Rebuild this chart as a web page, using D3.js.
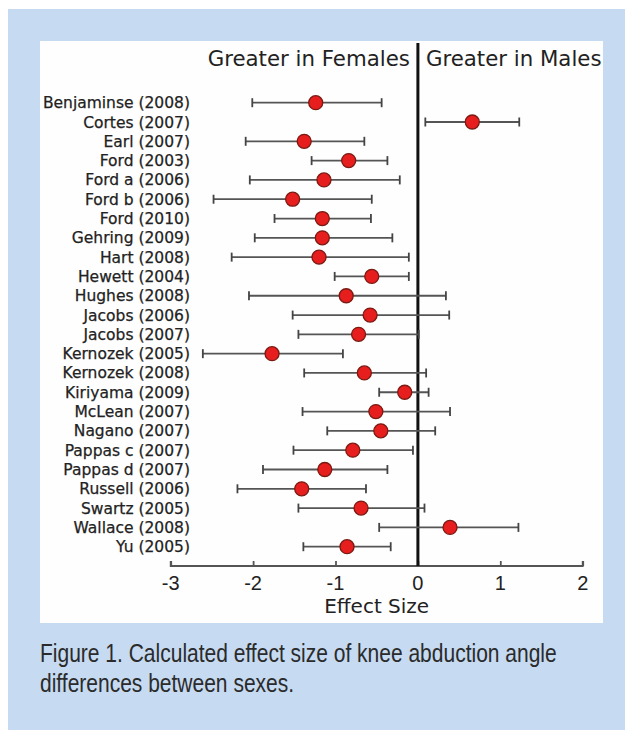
<!DOCTYPE html>
<html>
<head>
<meta charset="utf-8">
<script src="https://cdn.jsdelivr.net/npm/d3@7"></script>
<style>
  html, body { margin: 0; padding: 0; background: #fff; }
  svg { display: block; }
</style>
</head>
<body>
<svg id="chart" width="625" height="730"></svg>
<script>
const studies = ["Benjaminse (2008)","Cortes (2007)","Earl (2007)","Ford (2003)","Ford a (2006)","Ford b (2006)","Ford (2010)","Gehring (2009)","Hart (2008)","Hewett (2004)","Hughes (2008)","Jacobs (2006)","Jacobs (2007)","Kernozek (2005)","Kernozek (2008)","Kiriyama (2009)","McLean (2007)","Nagano (2007)","Pappas c (2007)","Pappas d (2007)","Russell (2006)","Swartz (2005)","Wallace (2008)","Yu (2005)"];
const effect = [-1.24, 0.66, -1.38, -0.84, -1.14, -1.52, -1.16, -1.16, -1.20, -0.56, -0.87, -0.58, -0.72, -1.77, -0.65, -0.16, -0.51, -0.45, -0.79, -1.13, -1.41, -0.69, 0.39, -0.86];
const lower  = [-2.01, 0.09, -2.09, -1.29, -2.04, -2.48, -1.74, -1.98, -2.26, -1.01, -2.05, -1.52, -1.45, -2.61, -1.38, -0.47, -1.40, -1.10, -1.51, -1.88, -2.19, -1.45, -0.47, -1.39];
const upper  = [-0.44, 1.23, -0.65, -0.37, -0.22, -0.56, -0.57, -0.31, -0.11, -0.11, 0.34, 0.38, 0.01, -0.91, 0.10, 0.13, 0.39, 0.21, -0.06, -0.37, -0.63, 0.08, 1.22, -0.33];
const xTicks = [-3, -2, -1, 0, 1, 2];
const headerLeft = "Greater in Females";
const headerRight = "Greater in Males";
const xTitle = "Effect Size";
const captionLines = ["Figure 1. Calculated effect size of knee abduction angle", "differences between sexes."];

const svg = d3.select("#chart");

// backgrounds
svg.append("rect").attr("x", 8).attr("y", 9).attr("width", 617).attr("height", 721).attr("fill", "#c6daf1");
svg.append("rect").attr("x", 40).attr("y", 41).attr("width", 563).attr("height", 582).attr("fill", "#fefefe");

const x = d3.scaleLinear().domain([-3, 2]).range([170.7, 582.7]);
const y = d3.scalePoint().domain(studies).range([102.7, 546.7]);
const axisY = 566;

const rows = studies.map((s, i) => ({ s, e: effect[i], lo: lower[i], hi: upper[i] }));

// axis
const axis = d3.axisTop(x).tickValues(xTicks).tickSize(5).tickFormat("");
const gAxis = svg.append("g").attr("transform", `translate(0,${axisY})`).call(axis);
gAxis.select(".domain").attr("stroke", "#555").attr("stroke-width", 1.8).attr("d", `M${x(-3)},-5V0H${x(2)}V-5`);
gAxis.selectAll(".tick line").attr("stroke", "#555").attr("stroke-width", 1.8);

svg.append("g").selectAll("text").data(xTicks).join("text")
  .attr("x", d => x(d)).attr("y", 590)
  .attr("text-anchor", "middle")
  .attr("font-family", "Liberation Sans, Arial, sans-serif")
  .attr("font-size", 20).attr("fill", "#222")
  .text(d => d);

svg.append("text").attr("x", x(-0.5)).attr("y", 613)
  .attr("text-anchor", "middle")
  .attr("font-family", "DejaVu Sans, Verdana, sans-serif")
  .attr("font-size", 20).attr("fill", "#222").text(xTitle);

// zero line
svg.append("line").attr("x1", x(0)).attr("x2", x(0)).attr("y1", 43).attr("y2", axisY)
  .attr("stroke", "#111").attr("stroke-width", 3);

// headers
svg.append("text").attr("x", x(0) - 8).attr("y", 66).attr("text-anchor", "end")
  .attr("font-family", "DejaVu Sans, Verdana, sans-serif").attr("font-size", 21.3).attr("fill", "#222").text(headerLeft);
svg.append("text").attr("x", x(0) + 8).attr("y", 66).attr("text-anchor", "start")
  .attr("font-family", "DejaVu Sans, Verdana, sans-serif").attr("font-size", 21.3).attr("fill", "#222").text(headerRight);

// labels
svg.append("g").selectAll("text").data(rows).join("text")
  .attr("x", 190).attr("y", d => y(d.s) + 5.5)
  .attr("text-anchor", "end")
  .attr("font-family", "DejaVu Sans, Verdana, sans-serif")
  .attr("font-size", 15.5).attr("fill", "#222")
  .attr("stroke", "#222").attr("stroke-width", 0.25)
  .text(d => d.s);

// error bars
const g = svg.append("g");
g.selectAll("line.bar").data(rows).join("line").attr("class", "bar")
  .attr("x1", d => x(d.lo)).attr("x2", d => x(d.hi))
  .attr("y1", d => y(d.s)).attr("y2", d => y(d.s))
  .attr("stroke", "#555").attr("stroke-width", 1.8);
g.selectAll("line.capl").data(rows).join("line").attr("class", "capl")
  .attr("x1", d => x(d.lo)).attr("x2", d => x(d.lo))
  .attr("y1", d => y(d.s) - 4.5).attr("y2", d => y(d.s) + 4.5)
  .attr("stroke", "#444").attr("stroke-width", 1.8);
g.selectAll("line.capr").data(rows).join("line").attr("class", "capr")
  .attr("x1", d => x(d.hi)).attr("x2", d => x(d.hi))
  .attr("y1", d => y(d.s) - 4.5).attr("y2", d => y(d.s) + 4.5)
  .attr("stroke", "#444").attr("stroke-width", 1.8);
g.selectAll("circle").data(rows).join("circle")
  .attr("cx", d => x(d.e)).attr("cy", d => y(d.s)).attr("r", 7)
  .attr("fill", "#e61e1e").attr("stroke", "#7a1a12").attr("stroke-width", 1.3);

// caption (condensed by horizontal scaling to match the reference width)
const cap = svg.append("g");
const capText = cap.selectAll("text").data(captionLines).join("text")
  .attr("x", 0).attr("y", (d, i) => 662 + i * 30)
  .attr("font-family", "Liberation Sans Narrow, Arial Narrow, Liberation Sans, sans-serif")
  .attr("font-size", 25).attr("fill", "#2b2b2b")
  .text(d => d);
const w1 = capText.nodes()[0].getComputedTextLength();
const k = Math.min(1, 517 / w1);
cap.attr("transform", `translate(40,0) scale(${k},1)`);
</script>
</body>
</html>
